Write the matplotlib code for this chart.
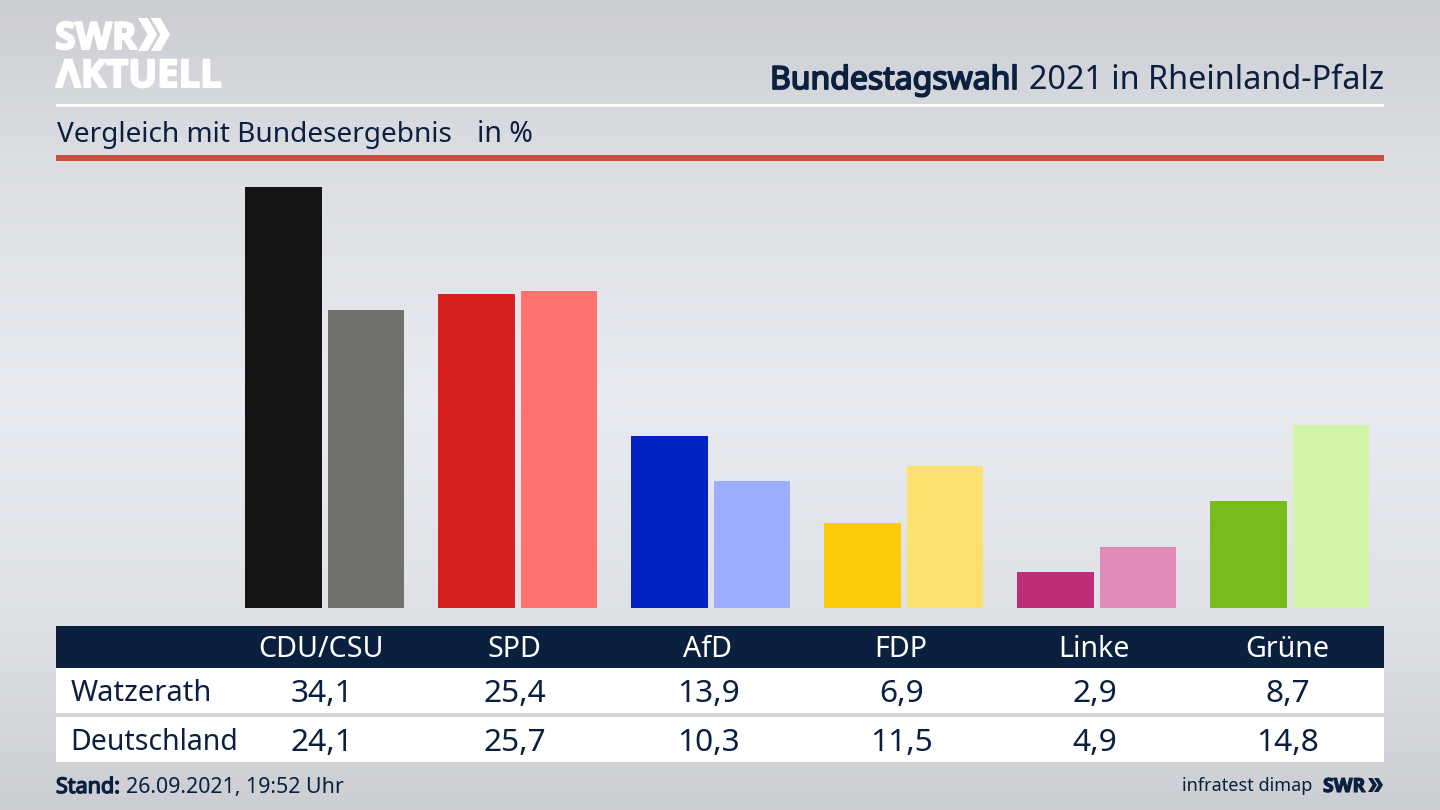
import numpy as np
import matplotlib
matplotlib.use('Agg')
import matplotlib.pyplot as plt
import matplotlib.patheffects as pe
from matplotlib.patches import Rectangle, Polygon

plt.rcParams['font.family'] = ['Noto Sans', 'DejaVu Sans']

# data
parties = ['CDU/CSU', 'SPD', 'AfD', 'FDP', 'Linke', 'Grüne']
watzerath = [34.1, 25.4, 13.9, 6.9, 2.9, 8.7]
deutschland = [24.1, 25.7, 10.3, 11.5, 4.9, 14.8]
colors_local = ['#141414', '#d8201e', '#0322c4', '#fecb0c', '#bd2e76', '#78bc1c']
colors_federal = ['#72706d', '#fe7370', '#9fadfe', '#fee070', '#df8ab7', '#d2f5a8']

NAVY = '#0b1f3f'


def fmt(value):
    return f'{value:.1f}'.replace('.', ',')


def heavy(color, width):
    # the installed Noto Sans has no bold cut, thicken it with a stroke
    return [pe.withStroke(linewidth=width, foreground=color)]


def chevrons(ax, x, y, h, total, color):
    # the two arrows of the SWR logo, (x, y) is top left, total = full width
    w = total * 0.6
    arm = w * 0.5
    for dx in (0, total - w):
        ax.add_patch(Polygon([(x + dx, y), (x + dx + arm, y),
                              (x + dx + w, y + h / 2), (x + dx + arm, y + h),
                              (x + dx, y + h), (x + dx + w - arm, y + h / 2)],
                             closed=True, color=color, lw=0))


fig = plt.figure(figsize=(14.4, 8.1), dpi=100)

# full figure axes in pixel coordinates for background and table
bg = fig.add_axes([0, 0, 1, 1])
stops_y = [0, 160, 400, 620, 810]
stops_v = [0.81, 0.875, 0.925, 0.885, 0.81]
grad = np.interp(np.arange(810), stops_y, stops_v)
img = np.stack([grad * 0.985, grad * 0.995, grad * 1.02], axis=-1).clip(0, 1)[:, None, :]
bg.imshow(img, extent=(0, 1440, 810, 0), aspect='auto', zorder=0)
bg.set_xlim(0, 1440)
bg.set_ylim(810, 0)
bg.axis('off')

# logo
bg.text(55, 49, 'SWR', color='white', fontsize=27, family='Open Sans', fontweight='bold',
        ha='left', va='baseline', path_effects=heavy('white', 1.5))
chevrons(bg, 138, 18, 33, 32, 'white')
bg.text(56, 87, 'ΛKTUELL', color='white', fontsize=27.5, family='Open Sans', fontweight='bold',
        ha='left', va='baseline', path_effects=heavy('white', 1.5))

# heading
bg.text(770, 89, 'Bundestagswahl', color=NAVY, fontsize=23, ha='left', va='baseline',
        path_effects=heavy(NAVY, 1.3))
bg.text(1384, 89, '2021 in Rheinland-Pfalz', color=NAVY, fontsize=23.3,
        ha='right', va='baseline')
bg.add_patch(Rectangle((56, 104), 1328, 3, color='white', lw=0))
bg.text(57, 142, 'Vergleich mit Bundesergebnis', color=NAVY, fontsize=20.2,
        ha='left', va='baseline')
bg.text(477, 142, 'in %', color=NAVY, fontsize=20.5, ha='left', va='baseline')
bg.add_patch(Rectangle((56, 155), 1328, 5.5, color='#c8503c', lw=0))

# bars, one unit on x = 193 px, one percent = 12.35 px
bars = fig.add_axes([56 / 1440, (810 - 608) / 810, 1328 / 1440, 438 / 810])
bars.patch.set_alpha(0)
bars.set_xlim((56 - 324.5) / 193, (1384 - 324.5) / 193)
bars.set_ylim(0, 438 / 12.35)
bars.axis('off')
x = np.arange(len(parties))
bars.bar(x - 0.2124, watzerath, width=0.397, color=colors_local)
bars.bar(x + 0.2145, deutschland, width=0.397, color=colors_federal)

# table
bg.add_patch(Rectangle((56, 626), 1328, 42, color=NAVY, lw=0, zorder=1))
bg.add_patch(Rectangle((56, 668), 1328, 45, color='white', lw=0, zorder=1))
bg.add_patch(Rectangle((56, 717), 1328, 45, color='white', lw=0, zorder=1))

col_x = [321 + 193.2 * i for i in range(len(parties))]
for cx, party, a, b in zip(col_x, parties, watzerath, deutschland):
    bg.text(cx, 657, party, color='white', fontsize=20.6, ha='center', va='baseline', zorder=2)
    bg.text(cx + 1, 702, fmt(a), color=NAVY, fontsize=22.8, ha='center', va='baseline', zorder=2)
    bg.text(cx + 1, 751, fmt(b), color=NAVY, fontsize=22.8, ha='center', va='baseline', zorder=2)
bg.text(71, 701, 'Watzerath', color=NAVY, fontsize=21, ha='left', va='baseline', zorder=2)
bg.text(70, 750, 'Deutschland', color=NAVY, fontsize=20.5, ha='left', va='baseline', zorder=2)

# footer
bg.text(56, 793, 'Stand:', color=NAVY, fontsize=15.5, ha='left', va='baseline',
        path_effects=heavy(NAVY, 1.0))
bg.text(126, 793, '26.09.2021, 19:52 Uhr', color=NAVY, fontsize=15.4, ha='left', va='baseline')
bg.text(1312, 791, 'infratest dimap', color=NAVY, fontsize=13, ha='right', va='baseline')
bg.text(1323, 792, 'SWR', color=NAVY, fontsize=14, family='Open Sans', fontweight='bold',
        ha='left', va='baseline', path_effects=heavy(NAVY, 0.8))
chevrons(bg, 1368, 778, 14, 15, NAVY)

fig.savefig('out.png', dpi=100)
